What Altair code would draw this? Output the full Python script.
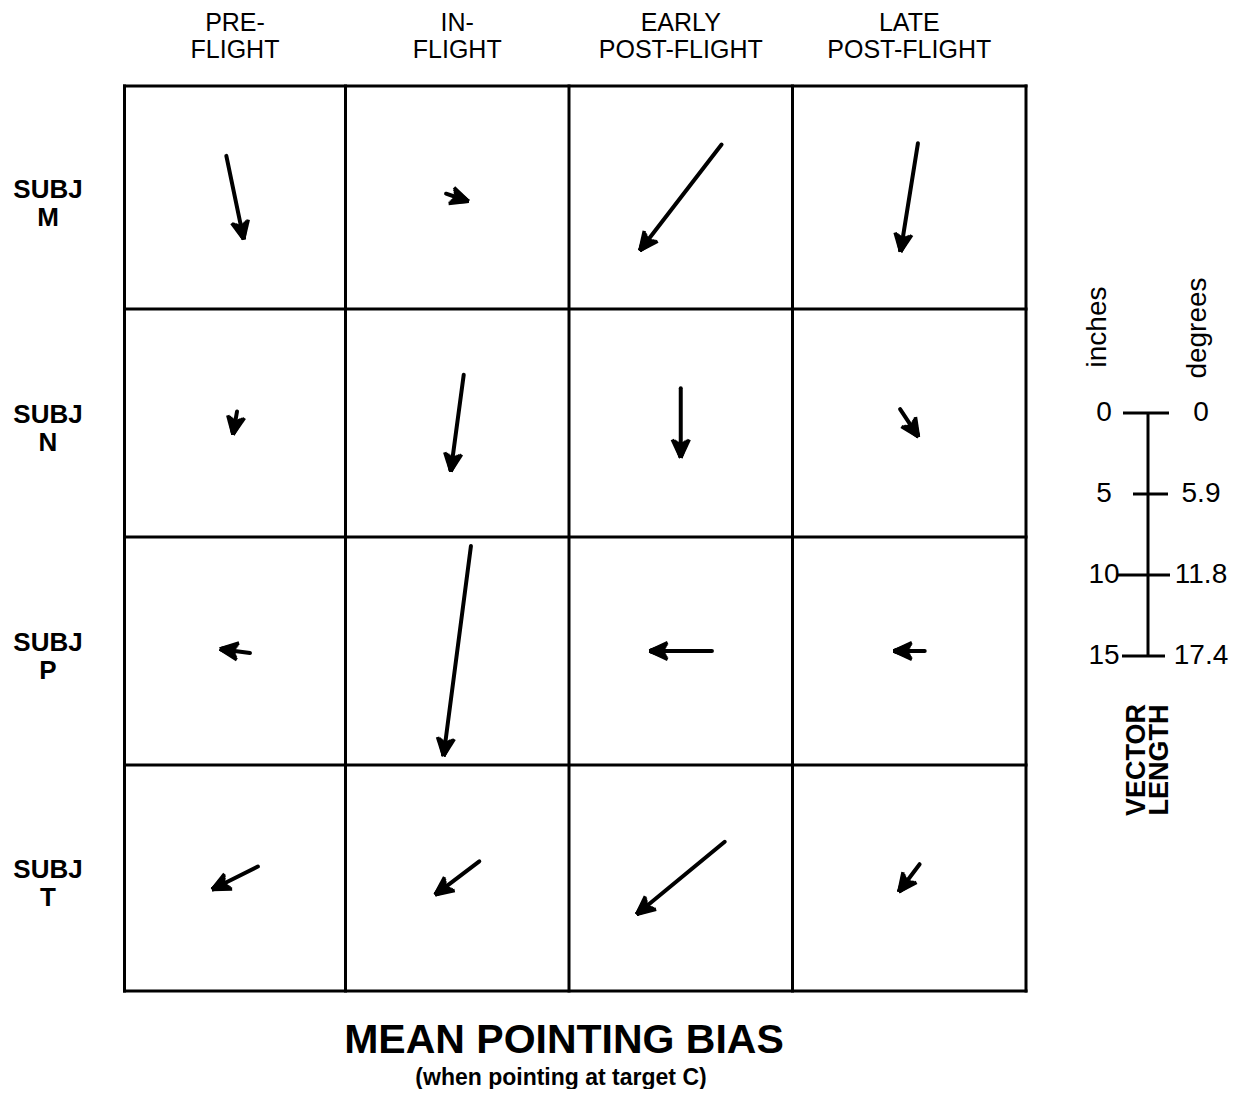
import math
import altair as alt
import pandas as pd

# ---------------- data ----------------
HEAD_TOP = ["PRE-", "IN-", "EARLY", "LATE"]
HEAD_BOTTOM = ["FLIGHT", "FLIGHT", "POST-FLIGHT", "POST-FLIGHT"]
SUBJECTS = ["M", "N", "P", "T"]

# mean pointing-bias vectors (inches): east = rightward, north = upward
# order of each list: pre-flight, in-flight, early post-flight, late post-flight
EAST_M = [1.07, 1.38, -5.04, -1.07]
NORTH_M = [-5.14, -0.47, -6.54, -6.69]
EAST_N = [-0.25, -0.80, 0.0, 1.13]
NORTH_N = [-1.42, -5.96, -4.28, -1.71]
EAST_P = [-1.85, -1.69, -3.85, -1.91]
NORTH_P = [0.25, -12.96, 0.0, 0.0]
EAST_T = [-2.82, -2.72, -5.43, -1.28]
NORTH_T = [-1.42, -2.06, -4.47, -1.70]
EAST = [EAST_M, EAST_N, EAST_P, EAST_T]
NORTH = [NORTH_M, NORTH_N, NORTH_P, NORTH_T]

SCALE_INCHES = [0, 5, 10, 15]
SCALE_DEGREES = ["0", "5.9", "11.8", "17.4"]

TITLE = "MEAN POINTING BIAS"
SUBTITLE = "(when pointing at target C)"

# ---------------- layout (chart pixels) ----------------
W, H = 1228, 1081
COL_EDGES = [116.5, 337.5, 561.0, 784.5, 1018.0]
ROW_EDGES = [78.0, 301.0, 529.0, 757.0, 983.0]
PX_INCH = 16.2
FONT = "Liberation Sans"
# arrowhead drawn as a dense fan of short strokes from the tip
HEAD_HALF_DEG = 25.0
HEAD_RAYS = 15
HEAD_LEN_EDGE = 20.0
HEAD_LEN_MID = 14.0
SHAFT_BACK = 11.0

xs = alt.Scale(domain=[0, W], nice=False, zero=False)
ys = alt.Scale(domain=[0, H], nice=False, zero=False, reverse=True)


def X(f):
    return alt.X(f, type="quantitative", scale=xs, axis=None)


def Y(f):
    return alt.Y(f, type="quantitative", scale=ys, axis=None)


def col_center(j):
    return (COL_EDGES[j] + COL_EDGES[j + 1]) / 2


def row_center(i):
    return (ROW_EDGES[i] + ROW_EDGES[i + 1]) / 2


# grid
grid_rows = []
for e in COL_EDGES:
    grid_rows.append({"x": e, "x2": e, "y": ROW_EDGES[0], "y2": ROW_EDGES[-1]})
for e in ROW_EDGES:
    grid_rows.append({"x": COL_EDGES[0], "x2": COL_EDGES[-1], "y": e, "y2": e})
grid = alt.Chart(pd.DataFrame(grid_rows)).mark_rule(
    color="black", strokeWidth=3, strokeCap="square"
).encode(x=X("x"), x2="x2", y=Y("y"), y2="y2")

# arrows
shaft_rows, head_rows = [], []
for i, s in enumerate(SUBJECTS):
    for j in range(4):
        e, n = EAST[i][j], NORTH[i][j]
        L = math.hypot(e, n)
        ux, uy = e / L, -n / L  # screen direction (y down)
        cx, cy = col_center(j), row_center(i)
        ex, ey = e * PX_INCH, -n * PX_INCH
        tipx, tipy = cx + 0.5 * ex, cy + 0.5 * ey
        tailx, taily = cx - 0.5 * ex, cy - 0.5 * ey
        shaft_rows.append({
            "subject": s, "phase": j,
            "x": tailx, "y": taily,
            "x2": tipx - SHAFT_BACK * ux, "y2": tipy - SHAFT_BACK * uy,
        })
        bx, by = -ux, -uy
        for r in range(HEAD_RAYS):
            f = -1 + 2 * r / (HEAD_RAYS - 1)
            t = math.radians(f * HEAD_HALF_DEG)
            ln = HEAD_LEN_MID + (HEAD_LEN_EDGE - HEAD_LEN_MID) * abs(f) ** 1.5
            rx = bx * math.cos(t) - by * math.sin(t)
            ry = bx * math.sin(t) + by * math.cos(t)
            head_rows.append({
                "subject": s, "phase": j,
                "x": tipx, "y": tipy, "x2": tipx + ln * rx, "y2": tipy + ln * ry,
            })

shafts = alt.Chart(pd.DataFrame(shaft_rows)).mark_rule(
    color="black", strokeWidth=4, strokeCap="round"
).encode(x=X("x"), y=Y("y"), x2="x2", y2="y2")
heads = alt.Chart(pd.DataFrame(head_rows)).mark_rule(
    color="black", strokeWidth=3.5, strokeCap="butt"
).encode(x=X("x"), y=Y("y"), x2="x2", y2="y2")

# column headers
hrows = []
for j in range(4):
    hrows.append({"x": col_center(j), "y": 15, "t": HEAD_TOP[j]})
    hrows.append({"x": col_center(j), "y": 42, "t": HEAD_BOTTOM[j]})
headers = alt.Chart(pd.DataFrame(hrows)).mark_text(
    font=FONT, fontSize=25, align="center", baseline="middle", color="black"
).encode(x=X("x"), y=Y("y"), text="t:N")

# row labels
rrows = []
for i, s in enumerate(SUBJECTS):
    cy = row_center(i)
    rrows.append({"x": 40, "y": cy - 8, "t": "SUBJ"})
    rrows.append({"x": 40, "y": cy + 20, "t": s})
rowlab = alt.Chart(pd.DataFrame(rrows)).mark_text(
    font=FONT, fontSize=26, fontWeight="bold", align="center", baseline="middle", color="black"
).encode(x=X("x"), y=Y("y"), text="t:N")

# scale bar
SB_X = 1140.0
SB_TOP = 405.0
LEFT_EXT = [25, 15, 31, 26]
RIGHT_EXT = [21, 20, 22, 17]
bar = alt.Chart(pd.DataFrame([{
    "x": SB_X, "y": SB_TOP, "y2": SB_TOP + SCALE_INCHES[-1] * PX_INCH
}])).mark_rule(color="black", strokeWidth=3).encode(x=X("x"), y=Y("y"), y2="y2")

trows, lrows = [], []
for idx, v in enumerate(SCALE_INCHES):
    ypx = SB_TOP + v * PX_INCH
    trows.append({"x": SB_X - LEFT_EXT[idx], "x2": SB_X + RIGHT_EXT[idx], "y": ypx})
    lrows.append({"x": SB_X - 44, "y": ypx, "t": str(v)})
    lrows.append({"x": SB_X + 53, "y": ypx, "t": SCALE_DEGREES[idx]})
ticks = alt.Chart(pd.DataFrame(trows)).mark_rule(color="black", strokeWidth=3).encode(
    x=X("x"), x2="x2", y=Y("y")
)
sblabels = alt.Chart(pd.DataFrame(lrows)).mark_text(
    font=FONT, fontSize=28, align="center", baseline="middle", color="black"
).encode(x=X("x"), y=Y("y"), text="t:N")

unit_rows = [
    {"x": 1090, "y": 319, "t": "inches"},
    {"x": 1190, "y": 320, "t": "degrees"},
]
units = alt.Chart(pd.DataFrame(unit_rows)).mark_text(
    font=FONT, fontSize=28, align="center", baseline="middle", angle=270, color="black"
).encode(x=X("x"), y=Y("y"), text="t:N")

vl_rows = [
    {"x": 1129, "y": 752, "t": "VECTOR"},
    {"x": 1152, "y": 752, "t": "LENGTH"},
]
vlab = alt.Chart(pd.DataFrame(vl_rows)).mark_text(
    font=FONT, fontSize=27, fontWeight="bold", align="center", baseline="middle",
    angle=270, color="black"
).encode(x=X("x"), y=Y("y"), text="t:N")

title = alt.Chart(pd.DataFrame([{"x": 556, "y": 1033, "t": TITLE}])).mark_text(
    font=FONT, fontSize=41, fontWeight="bold", align="center", baseline="middle", color="black"
).encode(x=X("x"), y=Y("y"), text="t:N")
subtitle = alt.Chart(pd.DataFrame([{"x": 553, "y": 1070, "t": SUBTITLE}])).mark_text(
    font=FONT, fontSize=23, fontWeight="bold", align="center", baseline="middle", color="black"
).encode(x=X("x"), y=Y("y"), text="t:N")

chart = alt.layer(
    grid, shafts, heads, headers, rowlab, bar, ticks, sblabels, units, vlab, title, subtitle
).properties(
    width=W, height=H, autosize="none", padding=0, background="white"
).configure_view(stroke=None)

chart.save("out.html", embed_options={"renderer": "svg", "actions": False})
